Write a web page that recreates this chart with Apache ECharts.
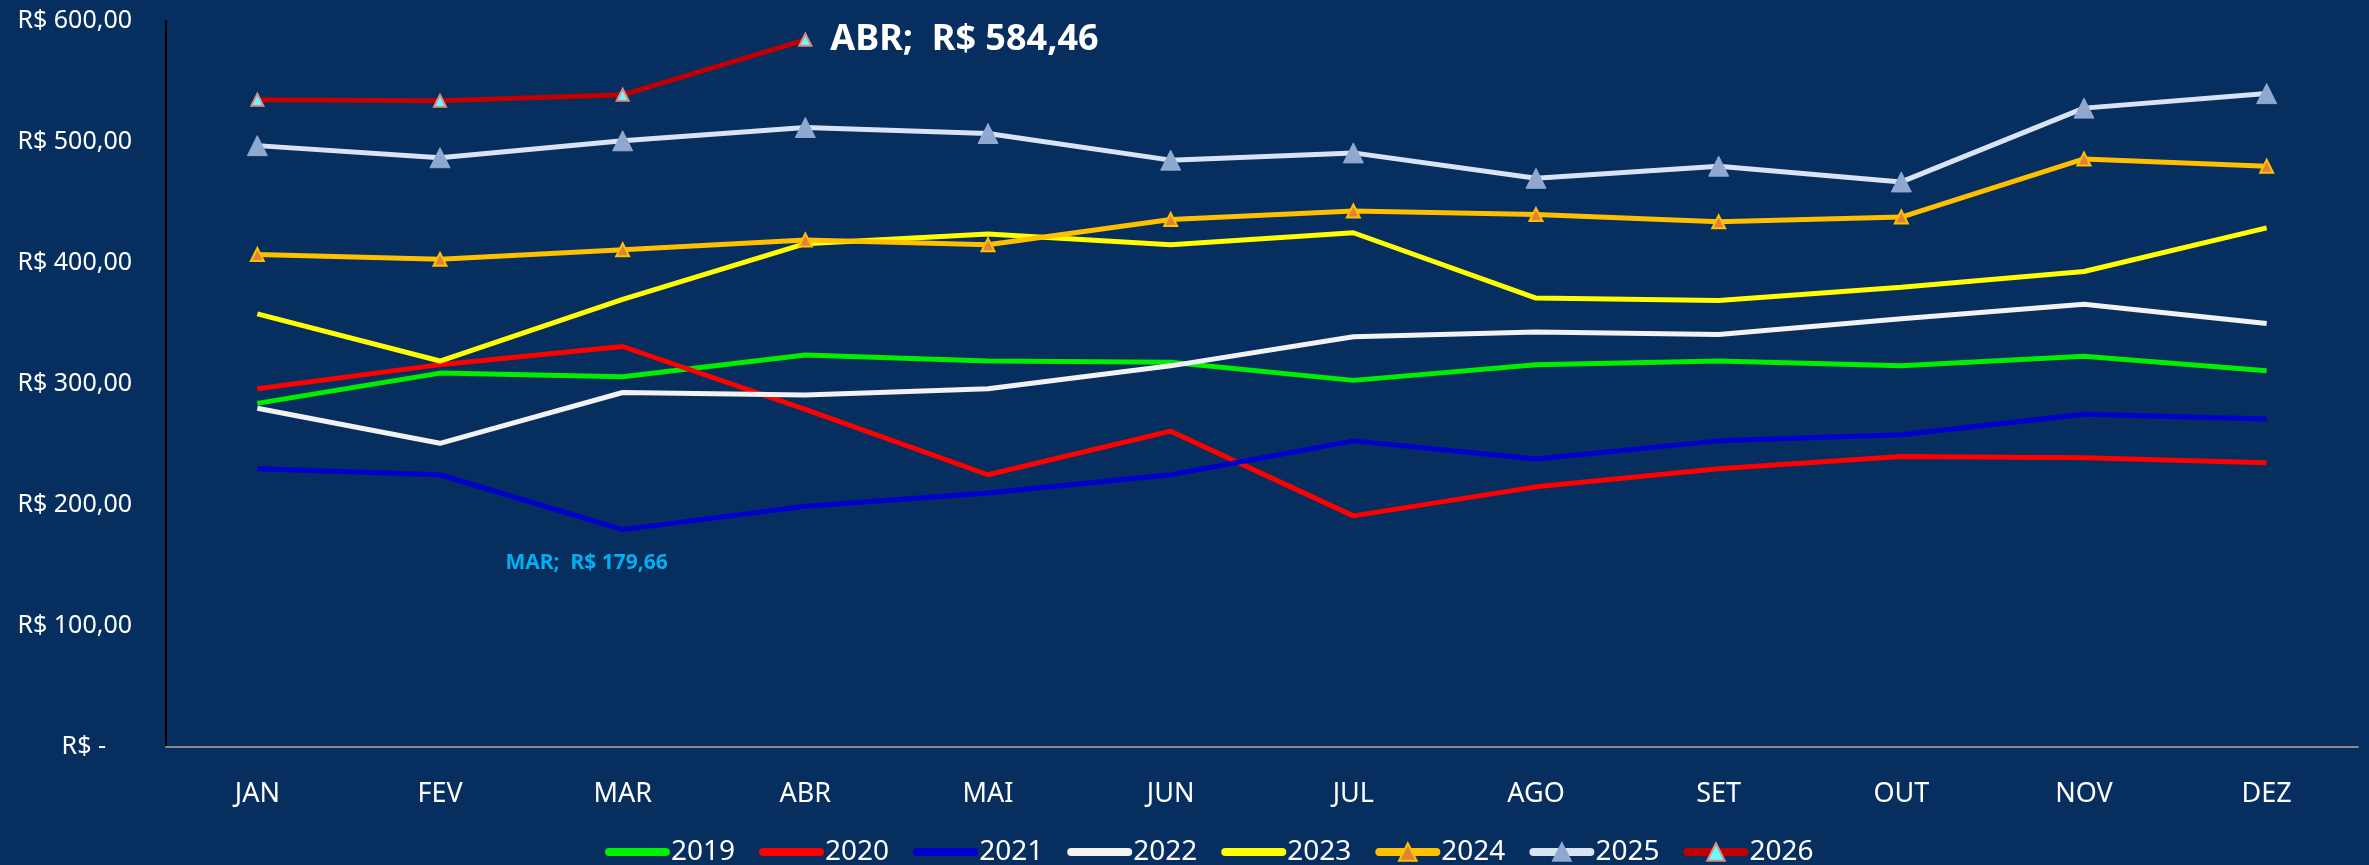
<!DOCTYPE html>
<html>
<head>
<meta charset="utf-8">
<script src="https://cdn.jsdelivr.net/npm/echarts@6/dist/echarts.min.js"></script>
<style>
  html, body { margin: 0; padding: 0; background: #062e5f; }
  #chart { width: 2369px; height: 865px; }
</style>
</head>
<body>
<div id="chart"></div>
<script>
  // meses
  const months = ['JAN', 'FEV', 'MAR', 'ABR', 'MAI', 'JUN', 'JUL', 'AGO', 'SET', 'OUT', 'NOV', 'DEZ']

  // valores (R$)
  const v2019 = [284, 309, 306, 324, 319, 318, 303, 316, 319, 315, 323, 311]
  const v2020 = [296, 316, 331, 279, 225, 261, 191, 215, 230, 240, 239, 235]
  const v2021 = [230, 225, 179.66, 199, 210, 225, 253, 238, 253, 258, 275, 271]
  const v2022 = [280, 251, 293, 291, 296, 315, 339, 343, 341, 354, 366, 350]
  const v2023 = [358, 319, 370, 416, 424, 415, 425, 371, 369, 380, 393, 429]
  const v2024 = [407, 403, 411, 419, 415, 436, 443, 440, 434, 438, 486, 480]
  const v2025 = [497, 487, 501, 512, 507, 485, 491, 470, 480, 467, 528, 540]
  const v2026 = [535, 534, 539, 584.46]

  const years = ['2019', '2020', '2021', '2022', '2023', '2024', '2025', '2026']

  const fmtBR = v => v.toFixed(2).replace('.', ',')

  const chart = echarts.init(document.getElementById('chart'))

  function plain(name, data, color) {
    return {
      name: name,
      type: 'line',
      data: data,
      symbol: 'none',
      lineStyle: { color: color, width: 5 },
      itemStyle: { color: color },
      z: 2
    }
  }

  // destaque do mínimo de 2021 (MAR)
  const d2021 = v2021.map((v, i) => i === 2 ? {
    value: v,
    label: {
      show: true,
      position: 'bottom',
      distance: 22,
      offset: [-36, 0],
      formatter: months[i] + ';  R$ ' + fmtBR(v),
      color: '#00b0f0',
      fontSize: 21,
      fontWeight: 'bold',
      fontFamily: 'Noto Sans'
    }
  } : v)

  // último ponto de 2026
  const d2026 = v2026.map((v, i) => i === v2026.length - 1 ? {
    value: v,
    label: {
      show: true,
      position: 'right',
      distance: 18,
      formatter: months[i] + ';  R$ ' + fmtBR(v),
      color: '#ffffff',
      fontSize: 36,
      fontWeight: 'bold',
      fontFamily: 'Noto Sans'
    }
  } : v)

  const s2021 = plain('2021', d2021, '#0000cc')
  s2021.symbol = 'circle'
  s2021.symbolSize = 1
  s2021.itemStyle = { color: 'transparent' }

  chart.setOption({
    backgroundColor: '#062e5f',
    animation: false,
    textStyle: { fontFamily: 'Noto Sans' },
    grid: { left: 166, right: 11, top: 21, bottom: 118 },
    legend: {
      top: 833,
      left: 600,
      itemWidth: 57,
      itemHeight: 22,
      itemGap: 24,
      lineStyle: { width: 8, cap: 'round' },
      textStyle: { color: '#ffffff', fontSize: 28, fontFamily: 'Noto Sans' },
      data: years.map((y, i) => i < 5 ? { name: y, itemStyle: { opacity: 0 } } : y)
    },
    xAxis: {
      type: 'category',
      data: months,
      boundaryGap: true,
      axisLine: { lineStyle: { color: '#8c8c8c', width: 2 } },
      axisTick: { show: false },
      axisLabel: { color: '#ffffff', fontSize: 27, margin: 34 }
    },
    yAxis: {
      type: 'value',
      min: 0,
      max: 600,
      interval: 100,
      splitLine: { show: false },
      axisLine: { show: true, lineStyle: { color: '#000000', width: 2 } },
      axisTick: { show: false },
      axisLabel: {
        color: '#ffffff',
        fontSize: 25,
        margin: 34,
        formatter: v => v === 0 ? 'R$ -    ' : 'R$ ' + fmtBR(v)
      }
    },
    series: [
      plain('2019', v2019, '#00ee00'),
      plain('2020', v2020, '#ff0000'),
      s2021,
      plain('2022', v2022, '#f2f2f2'),
      plain('2023', v2023, '#ffff00'),
      {
        name: '2024',
        type: 'line',
        data: v2024,
        symbol: 'triangle',
        symbolSize: 13,
        lineStyle: { color: '#ffc000', width: 5 },
        itemStyle: { color: '#e0823a', borderColor: '#ffc000', borderWidth: 2 },
        z: 3
      },
      {
        name: '2025',
        type: 'line',
        data: v2025,
        symbol: 'triangle',
        symbolSize: 20,
        lineStyle: { color: '#dae3f3', width: 5 },
        itemStyle: { color: '#8fa8d0', borderColor: '#8fa8d0', borderWidth: 1 },
        z: 4
      },
      {
        name: '2026',
        type: 'line',
        data: d2026,
        symbol: 'triangle',
        symbolSize: 12,
        lineStyle: { color: '#c00000', width: 5 },
        itemStyle: { color: '#66ffff', borderColor: '#e08a8a', borderWidth: 2 },
        z: 5
      }
    ]
  })
</script>
</body>
</html>
